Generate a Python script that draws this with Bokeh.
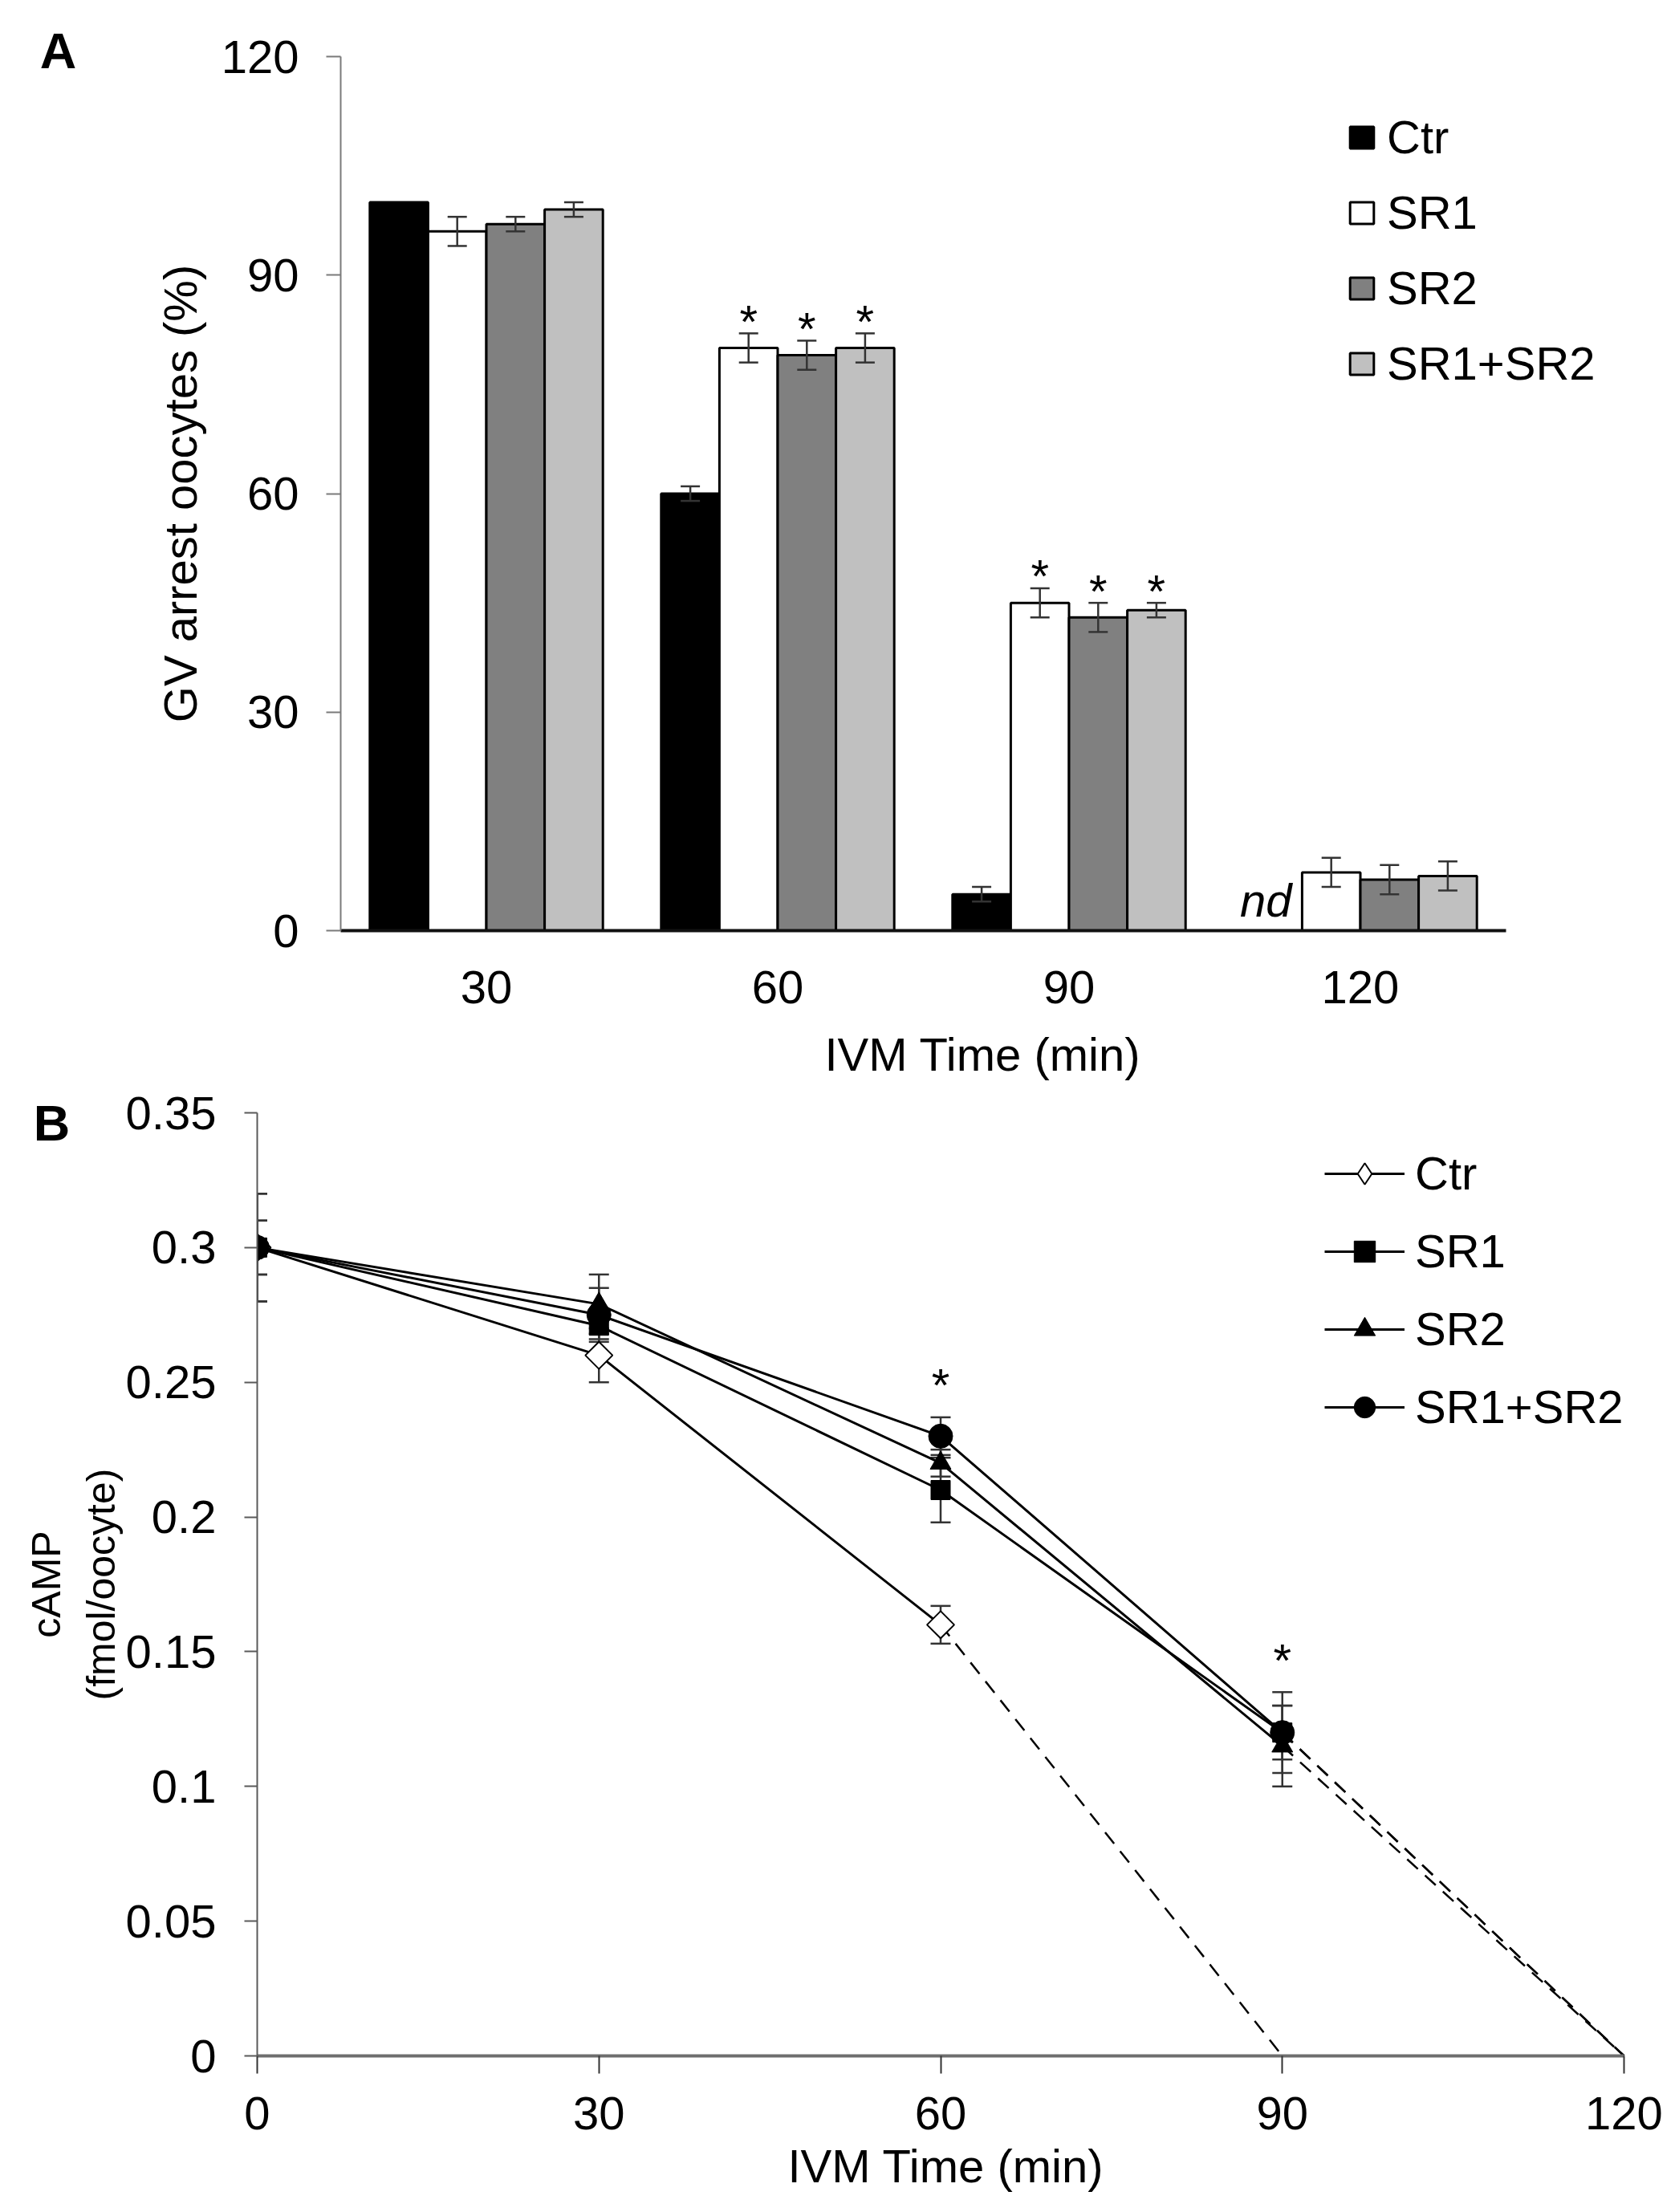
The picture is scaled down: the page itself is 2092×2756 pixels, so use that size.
import math
import numpy as np
from bokeh.plotting import figure
from bokeh.models import (ColumnDataSource, Range1d, FixedTicker, Legend, LegendItem,
                          Label, NumeralTickFormatter, CustomJSTickFormatter)
from bokeh.transform import dodge
from bokeh.embed import file_html
from bokeh.resources import INLINE
from bokeh.core.properties import value

FONT = "Liberation Sans"

# ---------------- Panel A data ----------------
times_a = ["30", "60", "90", "120"]
groups = ["Ctr", "SR1", "SR2", "SR1+SR2"]
ctr_a = [100, 60, 5, np.nan]          # nd at 120
ctr_a_err = [0, 1, 1, 0]
sr1_a = [96, 80, 45, 8]
sr1_a_err = [2, 2, 2, 2]
sr2_a = [97, 79, 43, 7]
sr2_a_err = [1, 2, 2, 2]
sr12_a = [99, 80, 44, 7.5]
sr12_a_err = [1, 2, 1, 2]
sig_times_a = ["60", "90"]
nd_times_a = ["120"]

# ---------------- Panel B data ----------------
times_b = [0, 30, 60, 90]
ctr_b = [0.30, 0.26, 0.16]
ctr_b_err = [0.01, 0.01, 0.007]
sr1_b = [0.30, 0.271, 0.21, 0.12]
sr1_b_err = [0.02, 0.005, 0.012, 0.015]
sr2_b = [0.30, 0.279, 0.22, 0.115]
sr2_b_err = [0.01, 0.011, 0.005, 0.015]
sr12_b = [0.30, 0.275, 0.23, 0.12]
sr12_b_err = [0.02, 0.01, 0.007, 0.01]
nd_time_ctr_b = 90
nd_time_sr_b = 120
sig_times_b = [60, 90]

W = 2084

# ================= Figure A =================
n_cat = len(times_a)
pos_a = np.arange(n_cat) + 0.5
A_LEFT, A_RIGHT = 424, 60
a_px_per_cat = 363.0
a_px_per_unit = 1089 / 120.0
pA = figure(x_range=Range1d(0, (W - A_LEFT - A_RIGHT) / a_px_per_cat),
            y_range=Range1d(0, 120), width=W, height=1348,
            output_backend="svg", toolbar_location=None,
            min_border_left=A_LEFT, min_border_right=A_RIGHT,
            min_border_top=70, min_border_bottom=189)
pA.outline_line_color = None
pA.xgrid.visible = False
pA.ygrid.visible = False

a_vals = [ctr_a, sr1_a, sr2_a, sr12_a]
a_errs = [ctr_a_err, sr1_a_err, sr2_a_err, sr12_a_err]
offsets = [-0.3, -0.1, 0.1, 0.3]
colors = ["black", "white", "#808080", "#c0c0c0"]

bar_renderers = []
for g, vals, off, col in zip(groups, a_vals, offsets, colors):
    src = ColumnDataSource(dict(pos=pos_a, top=np.array(vals, dtype=float)))
    r = pA.vbar(x=dodge("pos", off), top="top", width=0.2, source=src,
                fill_color=col, line_color="black", line_width=3)
    bar_renderers.append(r)

for g, vals, errs, off in zip(groups, a_vals, a_errs, offsets):
    v = np.array(vals, dtype=float)
    e = np.array(errs, dtype=float)
    keep = (e > 0) & ~np.isnan(v)
    esrc = ColumnDataSource(dict(pos=pos_a[keep], lo=(v - e)[keep], hi=(v + e)[keep]))
    xx = dodge("pos", off)
    pA.segment(x0=xx, x1=xx, y0="lo", y1="hi", source=esrc, line_color="#333333", line_width=2.5)
    pA.scatter(x=xx, y="lo", marker="dash", size=24, source=esrc, line_color="#333333", line_width=2.5)
    pA.scatter(x=xx, y="hi", marker="dash", size=24, source=esrc, line_color="#333333", line_width=2.5)

for g, vals, errs, off in zip(groups[1:], a_vals[1:], a_errs[1:], offsets[1:]):
    idx = [times_a.index(c) for c in sig_times_a]
    ssrc = ColumnDataSource(dict(pos=pos_a[idx], y=[vals[i] + errs[i] for i in idx], t=["*"] * len(idx)))
    pA.text(x=dodge("pos", off), y="y", text="t", source=ssrc,
            text_font=value(FONT), text_font_size="58px", text_align="center",
            text_baseline="alphabetic", y_offset=-15, text_color="black")

nd_idx = [times_a.index(c) for c in nd_times_a]
ndsrc = ColumnDataSource(dict(pos=pos_a[nd_idx], y=[0] * len(nd_idx), t=["nd"] * len(nd_idx)))
pA.text(x=dodge("pos", -0.2), y="y", text="t", source=ndsrc,
        text_font=value(FONT), text_font_size="58px", text_font_style="italic",
        text_align="right", text_baseline="alphabetic", x_offset=-13, y_offset=-38,
        text_color="black")

ax = pA.xaxis[0]
ax.bounds = (0, n_cat)
ax.ticker = FixedTicker(ticks=list(pos_a))
ax.formatter = CustomJSTickFormatter(args=dict(labels=times_a),
                                     code="return labels[Math.round(tick - 0.5)]")
ax.axis_label = "IVM Time (min)"
ax.axis_line_width = 4
ax.axis_line_color = "#111111"
ax.major_tick_line_color = None
ax.minor_tick_line_color = None
ax.major_label_text_font = FONT
ax.major_label_text_font_size = "58px"
ax.major_label_text_color = "black"
ax.major_label_standoff = 44
ax.axis_label_text_font = FONT
ax.axis_label_text_font_size = "58px"
ax.axis_label_text_font_style = "normal"
ax.axis_label_text_color = "black"
ax.axis_label_standoff = 28

ay = pA.yaxis[0]
ay.ticker = FixedTicker(ticks=[0, 30, 60, 90, 120])
ay.axis_label = "GV arrest oocytes (%)"
ay.axis_line_color = "#7a7a7a"
ay.axis_line_width = 2
ay.major_tick_out = 18
ay.major_tick_in = 0
ay.major_tick_line_color = "#7a7a7a"
ay.major_tick_line_width = 2
ay.minor_tick_line_color = None
ay.major_label_text_font = FONT
ay.major_label_text_font_size = "58px"
ay.major_label_text_color = "black"
ay.major_label_standoff = 34
ay.axis_label_text_font = FONT
ay.axis_label_text_font_size = "58px"
ay.axis_label_text_font_style = "normal"
ay.axis_label_text_color = "black"
ay.axis_label_standoff = 16

legA = Legend(items=[LegendItem(label=g, renderers=[r]) for g, r in zip(groups, bar_renderers)],
              location=(1254, 673), orientation="vertical",
              glyph_width=37, glyph_height=34, label_height=65, spacing=27,
              label_standoff=13, padding=0, margin=0,
              border_line_color=None, background_fill_alpha=0,
              label_text_font=FONT, label_text_font_size="58px", label_text_color="black")
pA.add_layout(legA, "center")

pA.add_layout(Label(x=(72 - 424) / a_px_per_cat, y=(1159 - 62) / a_px_per_unit, text="A",
                    text_font=FONT, text_font_size="63px", text_font_style="bold",
                    text_align="center", text_baseline="alphabetic", text_color="black"), "right")

# ================= Figure B =================
B_LEFT, B_RIGHT = 320, 48
b_px_per_min = 1703 / 120.0
b_px_per_unit = 1175 / 0.35
pB = figure(x_range=Range1d(0, (W - B_LEFT - B_RIGHT) / b_px_per_min),
            y_range=Range1d(0, 0.35), width=W, height=1398,
            output_backend="svg", toolbar_location=None,
            min_border_left=B_LEFT, min_border_right=B_RIGHT,
            min_border_top=38, min_border_bottom=185)
pB.outline_line_color = None
pB.xgrid.visible = False
pB.ygrid.visible = False

series_b = [
    ("Ctr", times_b[:len(ctr_b)], ctr_b, ctr_b_err),
    ("SR1", times_b, sr1_b, sr1_b_err),
    ("SR2", times_b, sr2_b, sr2_b_err),
    ("SR1+SR2", times_b, sr12_b, sr12_b_err),
]

for name, t, v, e in series_b:
    v = np.array(v); e = np.array(e)
    esrc = ColumnDataSource(dict(x=t, lo=v - e, hi=v + e))
    pB.segment(x0="x", x1="x", y0="lo", y1="hi", source=esrc, line_color="#333333", line_width=2.5)
    pB.scatter(x="x", y="lo", marker="dash", size=25, source=esrc, line_color="#333333", line_width=2.5)
    pB.scatter(x="x", y="hi", marker="dash", size=25, source=esrc, line_color="#333333", line_width=2.5)

for name, t, v, e in series_b:
    end_t = nd_time_ctr_b if name == "Ctr" else nd_time_sr_b
    pB.line(x=[t[-1], end_t], y=[v[-1], 0.0], line_color="black", line_width=2.5, line_dash="18 12")

marker_spec = {
    "Ctr": dict(marker="square", angle=math.pi / 4, size=24, fill_color="white", line_color="black", line_width=2),
    "SR1": dict(marker="square", size=24, fill_color="black", line_color="black", line_width=1),
    "SR2": dict(marker="triangle", size=26, fill_color="black", line_color="black", line_width=1),
    "SR1+SR2": dict(marker="circle", size=30, fill_color="black", line_color="black", line_width=1),
}

line_rs = {}
for name, t, v, e in series_b:
    line_rs[name] = pB.line(x=t, y=v, line_color="black", line_width=3)
leg_items_b = []
for name, t, v, e in series_b:
    sr = pB.scatter(x=t, y=v, **marker_spec[name])
    if name == "Ctr":
        # legend swatch: diamond outline (legend glyphs are drawn unrotated)
        sr_leg = pB.scatter(x=[np.nan], y=[np.nan], marker="diamond", size=30,
                            fill_color="white", line_color="black", line_width=2)
        leg_items_b.append(LegendItem(label=name, renderers=[line_rs[name], sr_leg]))
    else:
        leg_items_b.append(LegendItem(label=name, renderers=[line_rs[name], sr]))

st_x, st_y = [], []
for tt in sig_times_b:
    tops = [v[t.index(tt)] + e[t.index(tt)] for name, t, v, e in series_b if tt in t]
    st_x.append(tt)
    st_y.append(max(tops))
pB.text(x=st_x, y=st_y, text=["*"] * len(st_x), text_font=value(FONT), text_font_size="58px",
        text_align="center", text_baseline="alphabetic", y_offset=-40, text_color="black")

bx = pB.xaxis[0]
bx.bounds = (0, 120)
bx.ticker = FixedTicker(ticks=[0, 30, 60, 90, 120])
bx.axis_label = "IVM Time (min)"
bx.axis_line_width = 4
bx.axis_line_color = "#6e6e6e"
bx.major_tick_out = 22
bx.major_tick_in = 0
bx.major_tick_line_color = "#333333"
bx.major_tick_line_width = 2
bx.minor_tick_line_color = None
bx.major_label_text_font = FONT
bx.major_label_text_font_size = "58px"
bx.major_label_text_color = "black"
bx.major_label_standoff = 29
bx.axis_label_text_font = FONT
bx.axis_label_text_font_size = "58px"
bx.axis_label_text_font_style = "normal"
bx.axis_label_text_color = "black"
bx.axis_label_standoff = 10

by = pB.yaxis[0]
by.ticker = FixedTicker(ticks=[0, 0.05, 0.1, 0.15, 0.2, 0.25, 0.3, 0.35])
by.formatter = NumeralTickFormatter(format="0.[00]")
by.axis_label = "cAMP\n(fmol/oocyte)"
by.axis_line_color = "#5a5a5a"
by.axis_line_width = 2
by.major_tick_out = 16
by.major_tick_in = 0
by.major_tick_line_color = "#5a5a5a"
by.major_tick_line_width = 2
by.minor_tick_line_color = None
by.major_label_text_font = FONT
by.major_label_text_font_size = "58px"
by.major_label_text_color = "black"
by.major_label_standoff = 35
by.axis_label_text_font = FONT
by.axis_label_text_font_size = "50px"
by.axis_label_text_font_style = "normal"
by.axis_label_text_color = "black"
by.axis_label_standoff = 0

legB = Legend(items=leg_items_b, location=(1330, 775), orientation="vertical",
              glyph_width=100, glyph_height=66, label_height=66, spacing=30,
              label_standoff=13, padding=0, margin=0,
              border_line_color=None, background_fill_alpha=0,
              label_text_font=FONT, label_text_font_size="58px", label_text_color="black")
pB.add_layout(legB, "center")

pB.add_layout(Label(x=(64 - 320) / b_px_per_min, y=(2561 - 1398) / b_px_per_unit, text="B",
                    text_font=FONT, text_font_size="63px", text_font_style="bold",
                    text_align="center", text_baseline="alphabetic", text_color="black"), "right")

open("out.html", "w").write(file_html([pA, pB], INLINE))
